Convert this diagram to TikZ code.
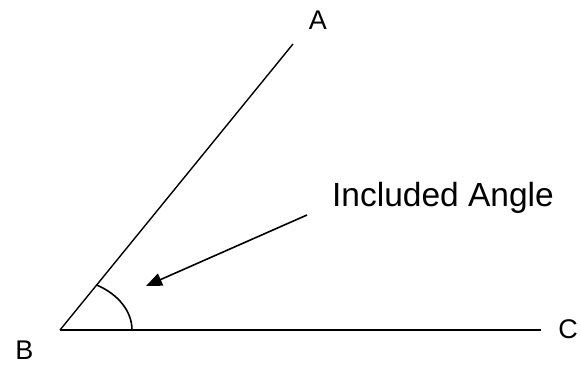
\documentclass[tikz,border=0pt]{standalone}
\usepackage{fontspec}
\setmainfont{Liberation Sans}
\usetikzlibrary{arrows.meta}
\tikzset{
  seg/.style={line width=1.4pt, black},
  lbl/.style={font=\fontsize{27}{30}\selectfont, inner sep=0pt},
  note/.style={font=\fontsize{33.5}{38}\selectfont, inner sep=0pt, anchor=base},
  pointer/.style={line width=1.6pt, -{Triangle[length=16pt, width=13pt]}},
}
\begin{document}
\begin{tikzpicture}[x=1pt, y=1pt]
\useasboundingbox (0,0) rectangle (581,370);
\coordinate (vB) at (60,40);
\coordinate (vA) at (293,326);
\coordinate (vC) at (541,40);
\draw[seg] (vB) -- (vA);
\draw[seg] (vB) -- (vC);
\draw[line width=1.6pt] (132,40) arc[start angle=0, end angle=59.4, x radius=72, y radius=52.3];
\node[lbl] (A) at (318,350) {A};
\node[lbl] (B) at (24.5,20) {B};
\node[lbl] (C) at (568,41) {C};
\node[note] (txt) at (443,164) {Included Angle};
\coordinate (arrS) at (307,155);
\coordinate (arrE) at (146,84);
\draw[pointer] (arrS) -- (arrE);
\end{tikzpicture}
\end{document}
